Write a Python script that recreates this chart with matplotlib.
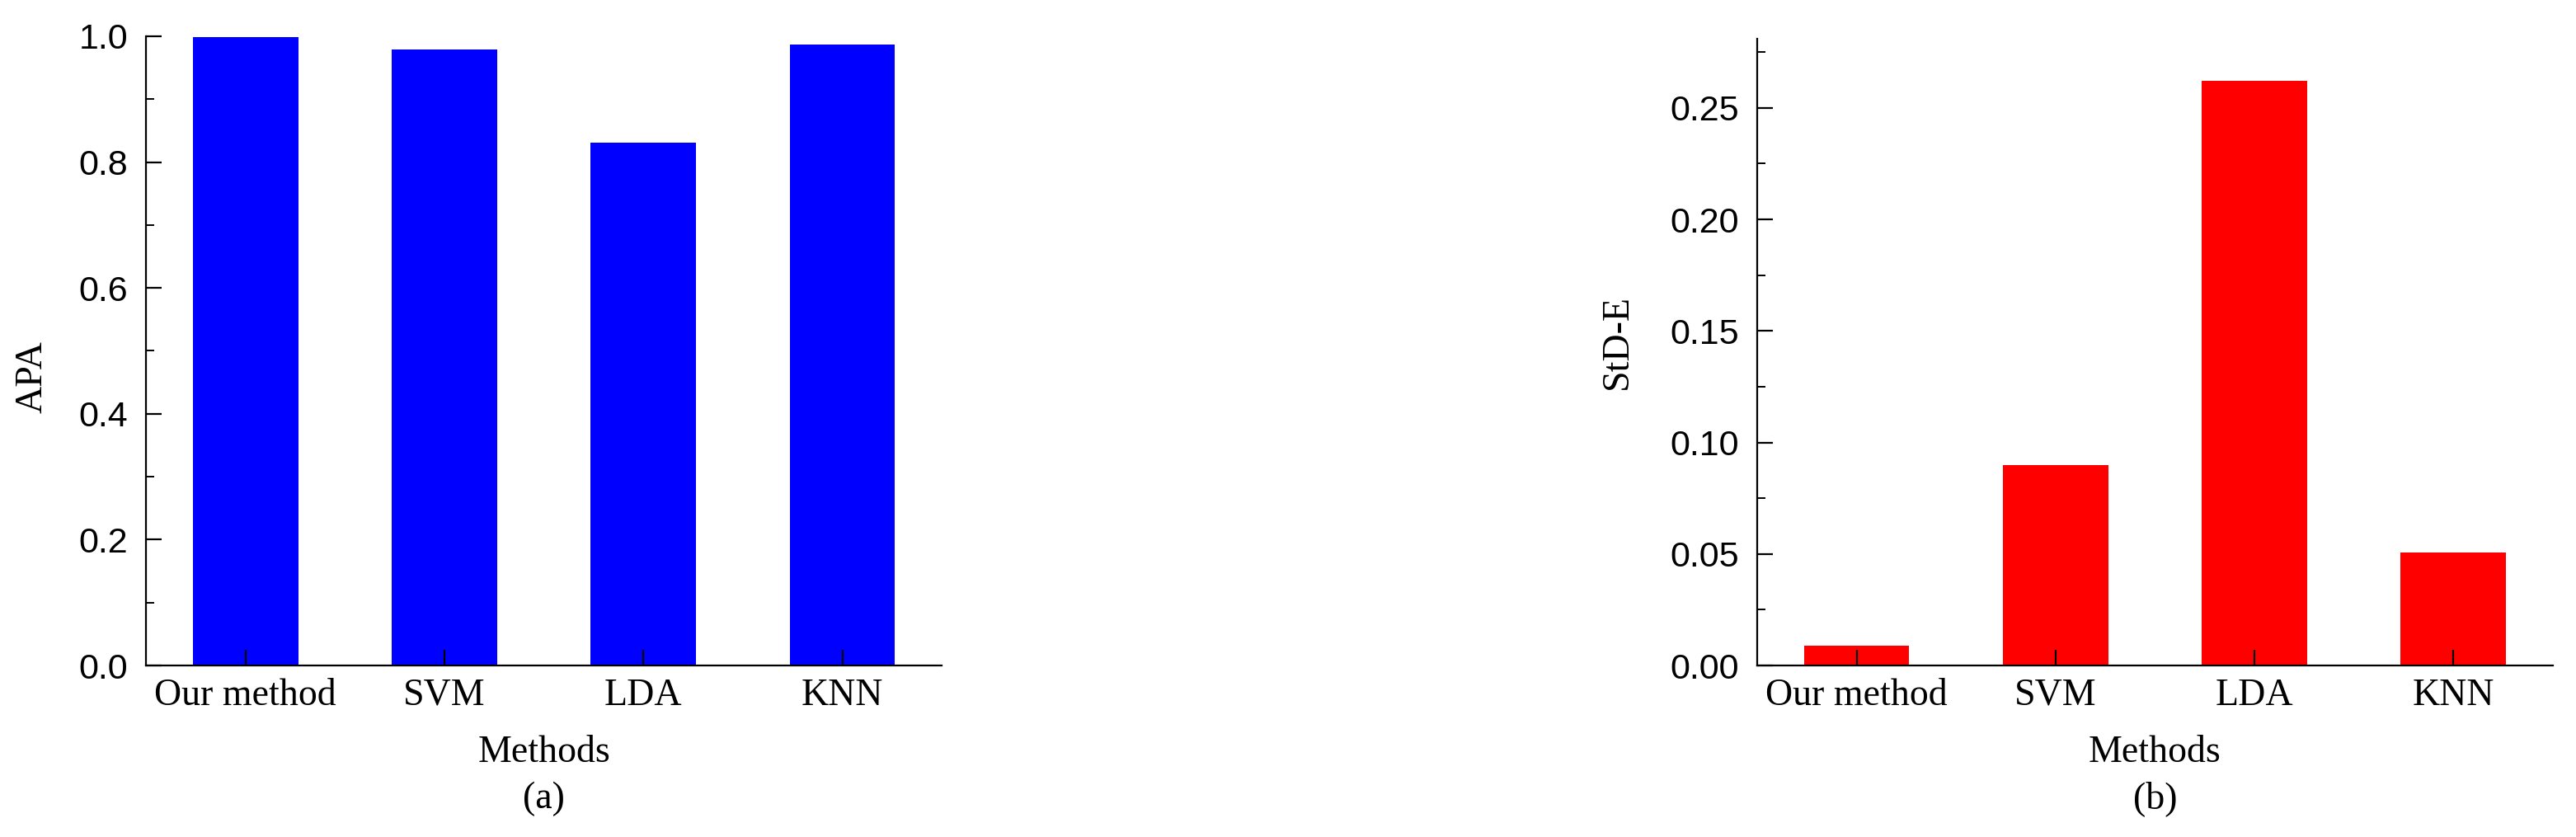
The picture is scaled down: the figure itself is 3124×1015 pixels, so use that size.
import numpy as np
import matplotlib
matplotlib.use("Agg")
import matplotlib.pyplot as plt
from matplotlib.ticker import MultipleLocator, FormatStrFormatter

# data
methods = ["Our method", "SVM", "LDA", "KNN"]
apa = [0.998, 0.979, 0.831, 0.987]
std_e = [0.009, 0.090, 0.262, 0.0505]

serif = "Liberation Serif"
sans = "Liberation Sans"

fig = plt.figure(figsize=(31.24, 10.15), dpi=100)
ax1 = fig.add_axes([0.0567, 0.2049, 0.3089, 0.7518])
ax2 = fig.add_axes([0.6821, 0.2049, 0.3089, 0.7488])

x = np.arange(len(methods))


def style(ax, ymax, major, minor, fmt, ylabel, ylab_xy, tag):
    ax.set_xlim(-0.5, len(methods) - 0.5)
    ax.set_ylim(0, ymax)
    for s in ["top", "right"]:
        ax.spines[s].set_visible(False)
    for s in ["left", "bottom"]:
        ax.spines[s].set_linewidth(1.6)
    ax.yaxis.set_major_locator(MultipleLocator(major))
    ax.yaxis.set_minor_locator(MultipleLocator(minor))
    ax.yaxis.set_major_formatter(FormatStrFormatter(fmt))
    ax.set_xticks(x)
    ax.set_xticklabels(methods, fontfamily=serif, fontsize=33)
    ax.tick_params(axis="x", direction="in", length=14, width=1.6, pad=11)
    ax.tick_params(axis="y", which="major", direction="in", length=14, width=1.6,
                   pad=16, labelsize=31)
    ax.tick_params(axis="y", which="minor", direction="in", length=7, width=1.4)
    for lab in ax.get_yticklabels():
        lab.set_fontfamily(sans)
    ax.set_xlabel("Methods", fontfamily=serif, fontsize=33, labelpad=19)
    ax.set_ylabel(ylabel, fontfamily=serif, fontsize=33)
    ax.yaxis.set_label_coords(*ylab_xy)
    pos = ax.get_position()
    fig.text(pos.x0 + pos.width / 2, 0.025, tag, ha="center", va="bottom",
             fontfamily=serif, fontsize=33)


ax1.bar(x, apa, width=0.53, color="#0000ff")
style(ax1, 1.0, 0.2, 0.1, "%.1f", "APA", (-0.121, 0.459), "(a)")

ax2.bar(x, std_e, width=0.53, color="#ff0000")
style(ax2, 0.281, 0.05, 0.025, "%.2f", "StD-E", (-0.153, 0.516), "(b)")

fig.savefig("out.png", dpi=100)
